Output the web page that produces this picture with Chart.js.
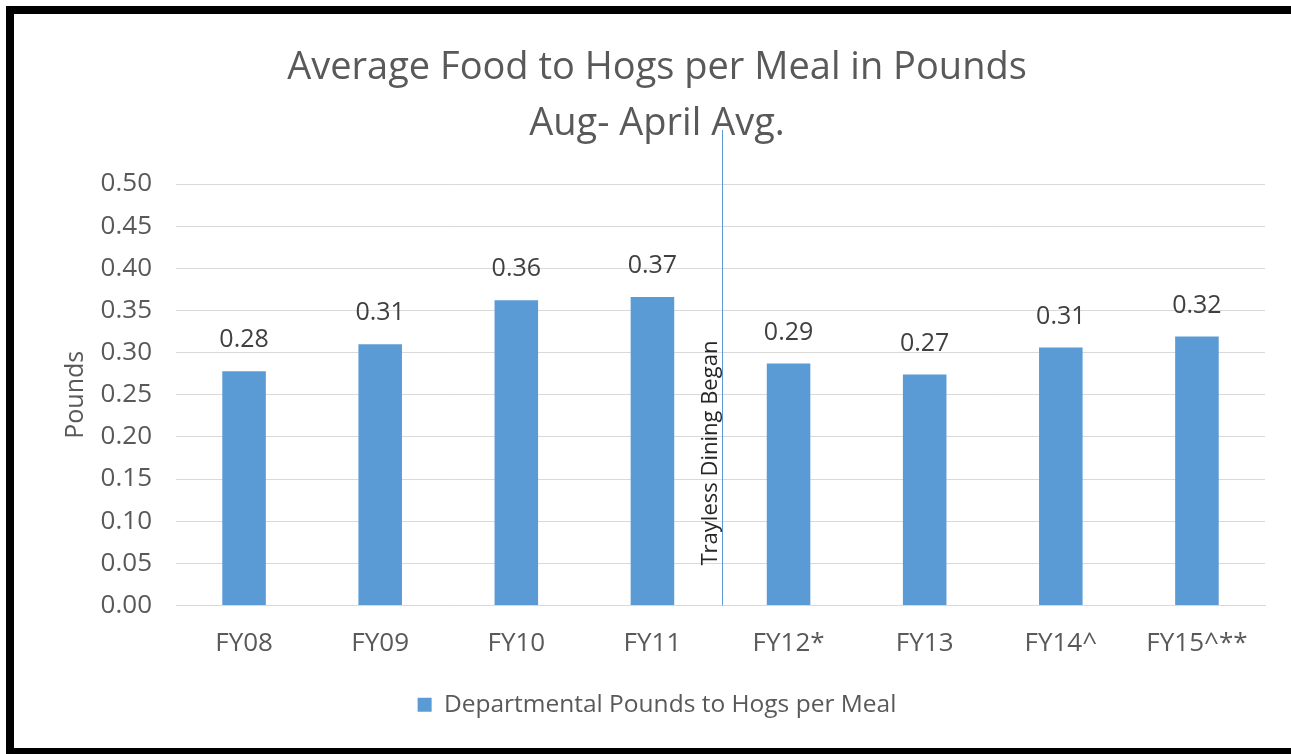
<!DOCTYPE html>
<html>
<head>
<meta charset="utf-8">
<title>Average Food to Hogs per Meal in Pounds</title>
<script src="https://cdn.jsdelivr.net/npm/chart.js@4/dist/chart.umd.min.js"></script>
<style>
	html, body { margin: 0; padding: 0; background: #fff; overflow: hidden; }
	.moldura {
		position: absolute;
		left: 6px;
		top: 6px;
		width: 1277px;
		height: 734px;
		border: 8px solid #000;
		border-right: none;
		background: #fff;
	}
	canvas { display: block; }
</style>
</head>
<body>
<div class="moldura">
	<canvas id="graficoHogs" width="1277" height="734"></canvas>
</div>
<script>
var anos = ['FY08', 'FY09', 'FY10', 'FY11', 'FY12*', 'FY13', 'FY14^', 'FY15^**'];
var librasPorRefeicao = [0.278, 0.310, 0.362, 0.366, 0.287, 0.274, 0.306, 0.319];
var tituloLinhas = ['Average Food to Hogs per Meal in Pounds', 'Aug- April Avg.'];
var nomeSerie = 'Departmental Pounds to Hogs per Meal';
var marcoTexto = 'Trayless Dining Began';
var marcoPosicao = 3.5; // entre FY11 e FY12*

var CINZA = '#595959';
var AZUL = '#5B9BD5';
var FONTE = '"Open Sans", "Noto Sans", sans-serif';

// rotulos de valor em cima das barras
var rotulosValor = {
	id: 'rotulosValor',
	afterDatasetsDraw: function(chart) {
		var ctx = chart.ctx;
		var meta = chart.getDatasetMeta(0);
		ctx.save();
		ctx.font = '25px ' + FONTE;
		ctx.fillStyle = '#404040';
		ctx.textAlign = 'center';
		ctx.textBaseline = 'middle';
		meta.data.forEach(function(barra, i) {
			ctx.fillText(chart.data.datasets[0].data[i].toFixed(2), barra.x, barra.y - 31);
		});
		ctx.restore();
	}
};

// linha vertical marcando o inicio do trayless dining
var marcoVertical = {
	id: 'marcoVertical',
	afterDatasetsDraw: function(chart) {
		var ctx = chart.ctx;
		var x = chart.scales.x.getPixelForValue(marcoPosicao) + 2;
		var area = chart.chartArea;
		ctx.save();
		ctx.strokeStyle = AZUL;
		ctx.lineWidth = 1;
		ctx.beginPath();
		ctx.moveTo(x, area.top - 54);
		ctx.lineTo(x, area.bottom);
		ctx.stroke();

		ctx.translate(x - 6, area.bottom - 40);
		ctx.rotate(-Math.PI / 2);
		ctx.font = '22px ' + FONTE;
		ctx.fillStyle = '#262626';
		ctx.textAlign = 'left';
		ctx.textBaseline = 'alphabetic';
		ctx.fillText(marcoTexto, 0, 0);
		ctx.restore();
	}
};

var grafico = new Chart(document.getElementById('graficoHogs').getContext('2d'), {
	type: 'bar',
	data: {
		labels: anos,
		datasets: [{
			label: nomeSerie,
			data: librasPorRefeicao,
			backgroundColor: AZUL,
			borderWidth: 0,
			categoryPercentage: 1,
			barPercentage: 0.32
		}]
	},
	options: {
		responsive: false,
		animation: false,
		layout: {
			padding: { left: 35, right: 26, top: 0, bottom: 21 }
		},
		plugins: {
			title: {
				display: true,
				text: tituloLinhas,
				color: CINZA,
				font: { family: FONTE, size: 38, weight: 'normal', lineHeight: 1.4737 },
				padding: { top: 26, bottom: 32 }
			},
			legend: {
				position: 'bottom',
				labels: {
					color: CINZA,
					font: { family: FONTE, size: 24.5 },
					boxWidth: 14,
					boxHeight: 14,
					padding: 24
				}
			},
			tooltip: { enabled: false }
		},
		scales: {
			x: {
				grid: { display: false, drawTicks: false },
				border: { color: '#d9d9d9' },
				ticks: {
					color: CINZA,
					font: { family: FONTE, size: 26 },
					padding: 22,
					maxRotation: 0
				},
				afterFit: function(escala) { escala.height = 63; }
			},
			y: {
				min: 0,
				max: 0.5,
				grid: { color: '#d9d9d9', drawTicks: false },
				border: { display: false },
				ticks: {
					stepSize: 0.05,
					color: CINZA,
					font: { family: FONTE, size: 26 },
					padding: 24,
					callback: function(valor) { return valor.toFixed(2); }
				},
				title: {
					display: true,
					text: 'Pounds',
					color: CINZA,
					font: { family: FONTE, size: 25 },
					padding: { top: 12, bottom: 0 }
				},
				afterFit: function(escala) { escala.width = 127; }
			}
		}
	},
	plugins: [rotulosValor, marcoVertical]
});
</script>
</body>
</html>
